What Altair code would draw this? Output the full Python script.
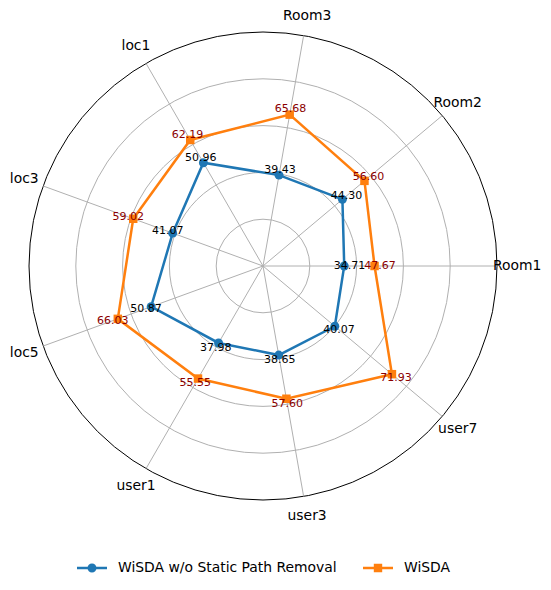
import altair as alt
import pandas as pd

categories = ["Room1", "Room2", "Room3", "loc1", "loc3", "loc5", "user1", "user3", "user7"]
series_names = ["WiSDA w/o Static Path Removal", "WiSDA"]
base_values = [34.71, 44.30, 39.43, 50.96, 41.07, 50.87, 37.98, 38.65, 40.07]
wisda_values = [47.67, 56.60, 65.68, 62.19, 59.02, 66.03, 55.55, 57.60, 71.93]
ring_ticks = [20, 40, 60, 80]
r_max = 100
colors = ["#1f77b4", "#ff7f0e"]
label_colors = ["black", "#8b0000"]

N = len(categories)
rows = []
for s, vals in zip(series_names, [base_values, wisda_values]):
    for i, (c, v) in enumerate(zip(categories, vals)):
        rows.append({"series": s, "category": c, "idx": i, "value": v})
df = pd.DataFrame(rows)
cat_df = pd.DataFrame({"category": categories, "idx": list(range(N))})
rings_df = pd.DataFrame({"r": ring_ticks})
outer_df = pd.DataFrame({"r": [r_max]})

ANG = f"datum.idx * 2 * PI / {N}"
XS = alt.Scale(domain=[-r_max, r_max], nice=False, zero=False)
YS = alt.Scale(domain=[-r_max, r_max], nice=False, zero=False)
CS = alt.Scale(domain=series_names, range=colors)
RS = alt.Scale(type="linear", domain=[0, r_max], range=[0, 234], zero=True)

PATH_C = "M-1,-0.085L1,-0.085L1,0.085L-1,0.085Z M-0.3,0A0.3,0.3,0,1,1,0.3,0A0.3,0.3,0,1,1,-0.3,0Z"
PATH_S = "M-1,-0.085L1,-0.085L1,0.085L-1,0.085Z M-0.28,-0.28L0.28,-0.28L0.28,0.28L-0.28,0.28Z"

leg = alt.Legend(
    title=None, orient="none", legendX=48, legendY=521, direction="horizontal",
    labelFont="DejaVu Sans", labelFontSize=13.9, labelColor="black", labelLimit=0,
    symbolSize=900, symbolStrokeWidth=0, labelOffset=11, columnPadding=26, padding=0
)
legend_layer = alt.Chart(df).transform_filter("false").mark_point(filled=True, opacity=1).encode(
    color=alt.Color("series:N", scale=CS, legend=leg),
    shape=alt.Shape("series:N", scale=alt.Scale(domain=series_names, range=[PATH_C, PATH_S]), legend=leg)
)

rings = alt.Chart(rings_df).mark_arc(theta=0, theta2=6.2832, fillOpacity=0, stroke="#b0b0b0", strokeWidth=1).encode(
    radius=alt.Radius("r:Q", scale=RS, stack=False)
)
outer = alt.Chart(outer_df).mark_arc(theta=0, theta2=6.2832, fillOpacity=0, stroke="black", strokeWidth=1).encode(
    radius=alt.Radius("r:Q", scale=RS, stack=False)
)

spokes = alt.Chart(cat_df).transform_calculate(ang=ANG).transform_calculate(
    x0="0", y0="0", x1=f"{r_max}*cos(datum.ang)", y1=f"{r_max}*sin(datum.ang)"
).mark_rule(color="#b0b0b0", strokeWidth=1).encode(
    x=alt.X("x0:Q", scale=XS, axis=None), y=alt.Y("y0:Q", scale=YS, axis=None),
    x2="x1:Q", y2="y1:Q"
)

pos = alt.Chart(df).transform_calculate(ang=ANG).transform_calculate(
    px="datum.value*cos(datum.ang)", py="datum.value*sin(datum.ang)",
    tx="(datum.value+2.3)*cos(datum.ang)", ty="(datum.value+2.3)*sin(datum.ang)"
)

lines = pos.mark_line(interpolate="linear-closed", strokeWidth=2.5).encode(
    x=alt.X("px:Q", scale=XS, axis=None), y=alt.Y("py:Q", scale=YS, axis=None),
    color=alt.Color("series:N", scale=CS, legend=None), order="idx:Q"
)

pts_base = pos.transform_filter(alt.datum.series == series_names[0]).mark_point(
    shape="circle", filled=True, size=80, opacity=1
).encode(
    x=alt.X("px:Q", scale=XS, axis=None), y=alt.Y("py:Q", scale=YS, axis=None),
    color=alt.Color("series:N", scale=CS, legend=None)
)
pts_wisda = pos.transform_filter(alt.datum.series == series_names[1]).mark_point(
    shape="square", filled=True, size=72, opacity=1
).encode(
    x=alt.X("px:Q", scale=XS, axis=None), y=alt.Y("py:Q", scale=YS, axis=None),
    color=alt.Color("series:N", scale=CS, legend=None)
)

vlabels = pos.mark_text(font="DejaVu Sans", fontSize=11, align="center", baseline="middle").encode(
    x=alt.X("tx:Q", scale=XS, axis=None), y=alt.Y("ty:Q", scale=YS, axis=None),
    text=alt.Text("value:Q", format=".2f"),
    color=alt.condition(alt.datum.series == series_names[1], alt.value(label_colors[1]), alt.value(label_colors[0]))
)

clabels = alt.Chart(cat_df).transform_calculate(ang=ANG).transform_calculate(
    lx=f"{r_max}*1.086*cos(datum.ang)", ly=f"{r_max}*1.086*sin(datum.ang)"
).mark_text(font="DejaVu Sans", fontSize=13.9, align="center", baseline="middle", color="black").encode(
    x=alt.X("lx:Q", scale=XS, axis=None), y=alt.Y("ly:Q", scale=YS, axis=None),
    text="category:N"
)

chart = alt.layer(
    legend_layer, rings, outer, spokes, lines, pts_base, pts_wisda, vlabels, clabels
).resolve_legend(color="independent", shape="independent").properties(
    width=468, height=468,
    autosize=alt.AutoSizeParams(type="none"),
    padding={"left": 21, "top": 24, "right": 46, "bottom": 82}
).configure_view(stroke=None)

chart.save("out.html", embed_options={"renderer": "svg", "actions": False})
